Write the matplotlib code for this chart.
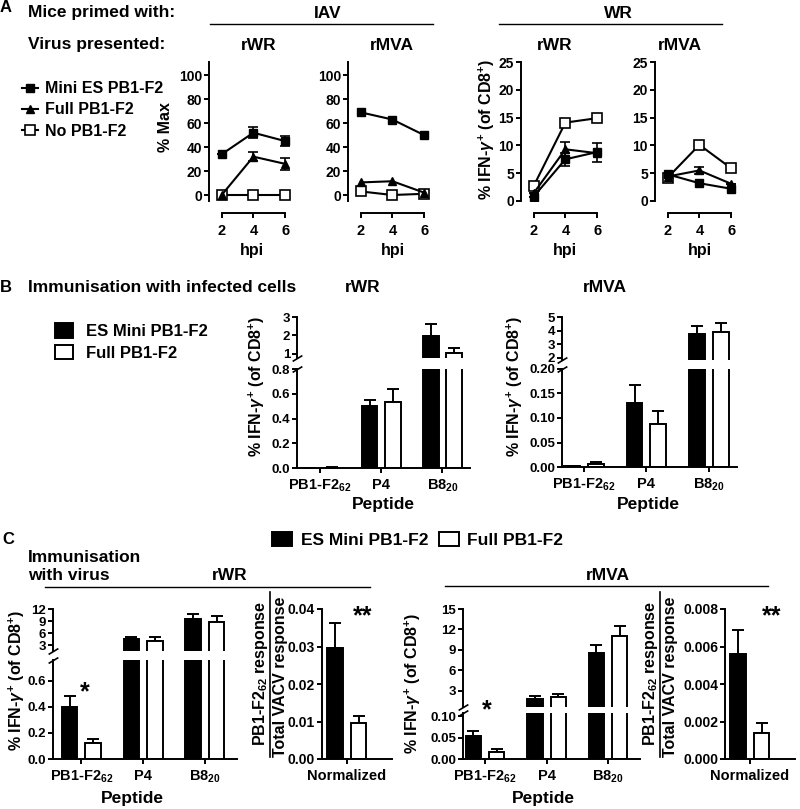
import numpy as np
import matplotlib
matplotlib.use("Agg")
import matplotlib.pyplot as plt
from matplotlib.lines import Line2D
from matplotlib.patches import Patch
from matplotlib.ticker import FormatStrFormatter

plt.rcParams['font.family'] = ['Liberation Sans', 'DejaVu Sans']
plt.rcParams['font.weight'] = 'bold'
plt.rcParams['axes.labelweight'] = 'bold'
plt.rcParams['mathtext.fontset'] = 'custom'
plt.rcParams['mathtext.rm'] = 'Liberation Sans'
plt.rcParams['mathtext.it'] = 'Liberation Sans:italic'
plt.rcParams['mathtext.bf'] = 'Liberation Sans:bold'
plt.rcParams['axes.linewidth'] = 1.4

# ---------------- data ----------------
hpi = [2, 4, 6]
series_names = ["Mini ES PB1-F2", "Full PB1-F2", "No PB1-F2"]

# A, IAV primed (% Max)
iav_rwr_mini = [34, 52, 45]
iav_rwr_mini_err = [0, 4.5, 4]
iav_rwr_full = [0, 32, 26]
iav_rwr_full_err = [0, 3.5, 5]
iav_rwr_none = [0, 0, 0]

iav_rmva_mini = [69, 63, 50]
iav_rmva_full = [10.5, 11.5, 2]
iav_rmva_none = [3, 0, 1]

# A, WR primed (% IFN-g+ of CD8+)
wr_rwr_mini = [0.8, 7.5, 8.8]
wr_rwr_mini_err = [0, 1.2, 1.7]
wr_rwr_full = [1.4, 9.3, 8.6]
wr_rwr_full_err = [0, 1.4, 0]
wr_rwr_none = [2.7, 14.1, 14.9]

wr_rmva_mini = [4.8, 3.2, 2.2]
wr_rmva_full = [4.4, 5.5, 3.1]
wr_rmva_full_err = [0, 0.7, 0]
wr_rmva_none = [4.2, 10.1, 5.9]

# B, immunisation with infected cells
peptides = ["PB1-F2$_{62}$", "P4", "B8$_{20}$"]
b_rwr_mini = [0.003, 0.50, 1.95]
b_rwr_mini_err = [0.001, 0.05, 0.65]
b_rwr_full = [0.004, 0.53, 1.05]
b_rwr_full_err = [0.002, 0.11, 0.25]
b_rmva_mini = [0.002, 0.130, 3.75]
b_rmva_mini_err = [0.001, 0.038, 0.6]
b_rmva_full = [0.006, 0.087, 3.9]
b_rmva_full_err = [0.004, 0.028, 0.65]

# C, immunisation with virus
c_rwr_mini = [0.40, 4.5, 9.4]
c_rwr_mini_err = [0.085, 0.5, 1.3]
c_rwr_full = [0.12, 4.1, 8.8]
c_rwr_full_err = [0.03, 0.9, 1.4]
c_rwr_norm = [0.0297, 0.0096]
c_rwr_norm_err = [0.0067, 0.0019]

c_rmva_mini = [0.053, 1.85, 8.5]
c_rmva_mini_err = [0.012, 0.45, 1.3]
c_rmva_full = [0.017, 2.05, 11.1]
c_rmva_full_err = [0.007, 0.5, 1.35]
c_rmva_norm = [0.0056, 0.0014]
c_rmva_norm_err = [0.0013, 0.0005]

# ---------------- figure helpers (pixel layout) ----------------
W, H = 800, 809
fig = plt.figure(figsize=(W / 100, H / 100), dpi=100)


def px_axes(l, t, r, b):
    ax = fig.add_axes([l / W, 1 - b / H, (r - l) / W, (b - t) / H])
    ax.spines['top'].set_visible(False)
    ax.spines['right'].set_visible(False)
    ax.patch.set_alpha(0)
    ax.tick_params(direction='out', length=3.5, width=1.4, labelsize=10, pad=1.5)
    return ax


def ftext(x, y, s, **kw):
    kw.setdefault('ha', 'center')
    kw.setdefault('va', 'center')
    fig.text(x / W, 1 - y / H, s, **kw)


def fline(x0, x1, y0, y1, lw=1.0):
    fig.add_artist(Line2D([x0 / W, x1 / W], [1 - y0 / H, 1 - y1 / H],
                          color='black', lw=lw, transform=fig.transFigure))


ylab_ifn = r'% IFN-$\gamma^{+}$ (of CD8$^{+}$)'
HEAD = 12.5

# ---------------- panel A ----------------
def line_panel(ax, mini, full, none, ylim, yticks, mini_err=None, full_err=None):
    kw = dict(color='black', lw=1.5, capsize=3.5, elinewidth=1.2, capthick=1.2)
    ax.errorbar(hpi, none, marker='s', ms=6.5, mfc='white', mec='black', mew=1.2, **kw)
    ax.errorbar(hpi, full, yerr=full_err, marker='^', ms=6, mfc='black', **kw)
    ax.errorbar(hpi, mini, yerr=mini_err, marker='s', ms=6, mfc='black', **kw)
    ax.set_xlim(1.2, 6.5)
    ax.set_ylim(*ylim)
    ax.set_yticks(yticks)
    ax.set_xticks(hpi)
    ax.spines['bottom'].set_position(('outward', 8.6))
    ax.spines['bottom'].set_bounds(2, 6)
    ax.tick_params(axis='x', pad=4.5, labelsize=10.5)


a1 = px_axes(209, 62, 293, 201)
line_panel(a1, iav_rwr_mini, iav_rwr_full, iav_rwr_none, (-5, 111), range(0, 101, 20),
           iav_rwr_mini_err, iav_rwr_full_err)
a2 = px_axes(348, 62, 432, 201)
line_panel(a2, iav_rmva_mini, iav_rmva_full, iav_rmva_none, (-5, 111), range(0, 101, 20))
a3 = px_axes(521, 62, 605, 201)
line_panel(a3, wr_rwr_mini, wr_rwr_full, wr_rwr_none, (0, 25), range(0, 26, 5),
           wr_rwr_mini_err, wr_rwr_full_err)
a4 = px_axes(655, 62, 739, 201)
line_panel(a4, wr_rmva_mini, wr_rmva_full, wr_rmva_none, (0, 25), range(0, 26, 5),
           None, wr_rmva_full_err)

ftext(6, 7, 'A', fontsize=12)
ftext(28, 13, 'Mice primed with:', ha='left', fontsize=HEAD)
ftext(28, 45, 'Virus presented:', ha='left', fontsize=HEAD)
ftext(328, 13, 'IAV', fontsize=HEAD)
ftext(618, 13, 'WR', fontsize=HEAD)
fline(210, 433, 24, 24)
fline(499, 722, 24, 24)
for x, s in [(259, 'rWR'), (392, 'rMVA'), (555, 'rWR'), (680, 'rMVA')]:
    ftext(x, 45, s, fontsize=HEAD)
for x in [252, 393, 565, 700]:
    ftext(x, 250, 'hpi', fontsize=11.5)
ftext(166, 127, '% Max', rotation=90, fontsize=11.5)
ftext(487, 129, ylab_ifn, rotation=90, fontsize=11.5)

a_handles = [Line2D([], [], color='black', lw=1.5, marker='s', ms=6, mfc='black'),
             Line2D([], [], color='black', lw=1.5, marker='^', ms=6, mfc='black'),
             Line2D([], [], color='black', lw=1.5, marker='s', ms=6.5, mfc='white', mew=1.2)]
fig.legend(a_handles, series_names, loc='center left', bbox_to_anchor=(22 / W, 1 - 110 / H),
           frameon=False, fontsize=11.5, handlelength=1.0, handletextpad=0.45,
           labelspacing=0.4, borderpad=0, borderaxespad=0)

# ---------------- bar helpers ----------------
BW, OFF = 0.25, 0.19


def bar_pair(ax, mini, mini_err, full, full_err):
    x = np.arange(len(mini))
    ax.bar(x - OFF, mini, BW, color='black', edgecolor='black', lw=1.4, zorder=2)
    ax.bar(x + OFF, full, BW, color='white', edgecolor='black', lw=1.4, zorder=2)
    kw = dict(fmt='none', ecolor='black', elinewidth=1.4, capsize=4.2, capthick=1.4, zorder=1)
    ax.errorbar(x - OFF, mini, yerr=[np.zeros(len(mini)), mini_err], **kw)
    ax.errorbar(x + OFF, full, yerr=[np.zeros(len(full)), full_err], **kw)


def break_marks(upper, lower):
    mk = dict(marker=[(-1, -0.6), (1, 0.6)], markersize=7, linestyle='none',
              color='black', mec='black', mew=1.2, clip_on=False)
    upper.plot([0], [0], transform=upper.transAxes, **mk)
    lower.plot([0], [1], transform=lower.transAxes, **mk)


def broken(lo_box, up_box, lo_ylim, up_ylim, lo_ticks, up_ticks, lo_fmt, xlim,
           mini, mini_err, full, full_err, labels):
    up = px_axes(*up_box)
    lo = px_axes(*lo_box)
    for ax in (up, lo):
        bar_pair(ax, mini, mini_err, full, full_err)
        ax.set_xlim(*xlim)
        ax.tick_params(axis='y', labelsize=9.5)
    up.set_ylim(*up_ylim)
    up.set_yticks(up_ticks)
    up.spines['bottom'].set_visible(False)
    up.set_xticks([])
    lo.set_ylim(*lo_ylim)
    lo.set_yticks(lo_ticks)
    lo.yaxis.set_major_formatter(FormatStrFormatter(lo_fmt))
    lo.set_xticks(range(len(labels)))
    lo.set_xticklabels(labels, fontsize=10.5)
    lo.tick_params(axis='x', pad=3.5)
    break_marks(up, lo)
    return up, lo


# ---------------- panel B ----------------
broken((297, 369, 470, 468), (297, 317, 470, 358), (0, 0.8), (0.78, 3),
       np.arange(0, 0.81, 0.2), [1, 2, 3], '%.1f', (-0.38, 2.45),
       b_rwr_mini, b_rwr_mini_err, b_rwr_full, b_rwr_full_err, peptides)
broken((562, 369, 737, 467), (562, 317, 737, 360), (0, 0.2), (1.85, 5),
       np.arange(0, 0.201, 0.05), [2, 3, 4, 5], '%.2f', (-0.35, 2.45),
       b_rmva_mini, b_rmva_mini_err, b_rmva_full, b_rmva_full_err, peptides)

ftext(6, 287, 'B', fontsize=12)
ftext(28, 287, 'Immunisation with infected cells', ha='left', fontsize=HEAD)
ftext(363, 287, 'rWR', fontsize=HEAD)
ftext(605, 287, 'rMVA', fontsize=HEAD)
ftext(257, 386, ylab_ifn, rotation=90, fontsize=11.5)
ftext(515, 386, ylab_ifn, rotation=90, fontsize=11.5)
ftext(383, 505, 'Peptide', fontsize=12.5)
ftext(648, 505, 'Peptide', fontsize=12.5)

bar_handles = [Patch(facecolor='black', edgecolor='black', lw=1.4),
               Patch(facecolor='white', edgecolor='black', lw=1.4)]
bar_names = ['ES Mini PB1-F2', 'Full PB1-F2']
fig.legend(bar_handles, bar_names, loc='center left', bbox_to_anchor=(55 / W, 1 - 342 / H),
           frameon=False, fontsize=12, handlelength=1.05, handleheight=0.95,
           handletextpad=0.8, labelspacing=0.35, borderpad=0, borderaxespad=0)

# ---------------- panel C ----------------
broken((53, 660, 237, 759), (53, 609, 237, 651), (0, 0.76), (1.5, 12),
       np.arange(0, 0.61, 0.2), [3, 6, 9, 12], '%.1f', (-0.46, 2.52),
       c_rwr_mini, c_rwr_mini_err, c_rwr_full, c_rwr_full_err, peptides)
broken((463, 713, 640, 759), (463, 609, 640, 707), (0, 0.108), (0.65, 15),
       [0, 0.05, 0.10], [3, 6, 9, 12, 15], '%.2f', (-0.36, 2.52),
       c_rmva_mini, c_rmva_mini_err, c_rmva_full, c_rmva_full_err, peptides)


def norm_panel(box, vals, errs, ylim, yticks, fmt):
    ax = px_axes(*box)
    kw = dict(ecolor='black', elinewidth=1.4, capsize=4.2, capthick=1.4, fmt='none', zorder=1)
    ax.bar([-OFF], vals[:1], BW, color='black', edgecolor='black', lw=1.4, zorder=2)
    ax.bar([OFF], vals[1:], BW, color='white', edgecolor='black', lw=1.4, zorder=2)
    ax.errorbar([-OFF, OFF], vals, yerr=[[0, 0], errs], **kw)
    ax.set_xlim(-0.4, 0.73)
    ax.set_ylim(*ylim)
    ax.set_yticks(yticks)
    ax.yaxis.set_major_formatter(FormatStrFormatter(fmt))
    ax.set_xticks([0])
    ax.set_xticklabels(['Normalized'], fontsize=10.5)
    ax.tick_params(axis='x', pad=3.5)
    return ax


norm_panel((322, 609, 392, 759), c_rwr_norm, c_rwr_norm_err, (0, 0.04),
           np.arange(0, 0.041, 0.01), '%.2f')
norm_panel((725, 609, 795, 759), c_rmva_norm, c_rmva_norm_err, (0, 0.008),
           np.arange(0, 0.0081, 0.002), '%.3f')

ftext(8, 540, 'C', fontsize=12)
ftext(28, 557, 'Immunisation', ha='left', fontsize=HEAD)
ftext(28, 575, 'with virus', ha='left', fontsize=HEAD)
ftext(230, 575, 'rWR', fontsize=HEAD)
ftext(608, 575, 'rMVA', fontsize=HEAD)
fline(45, 370, 587, 587)
fline(445, 768, 586, 586)
fig.legend(bar_handles, bar_names, loc='center left', bbox_to_anchor=(272 / W, 1 - 540 / H),
           ncol=2, frameon=False, fontsize=12.5, handlelength=1.15, handleheight=0.9,
           handletextpad=0.5, columnspacing=0.6, borderpad=0, borderaxespad=0)

ftext(17, 680, ylab_ifn, rotation=90, fontsize=11.5)
ftext(413, 683, ylab_ifn, rotation=90, fontsize=11.5)
ftext(132, 798, 'Peptide', fontsize=12.5)
ftext(543, 798, 'Peptide', fontsize=12.5)
for xl, xb, xr in [(261, 270, 280), (651, 660, 670)]:
    ftext(xl, 673, 'PB1-F2$_{62}$ response', rotation=90, fontsize=11.5)
    ftext(xr, 677, 'Total VACV response', rotation=90, fontsize=11.5)
    fline(xb, xb, 592, 757, lw=1.2)

ftext(85, 692, '*', fontsize=18)
ftext(487, 710, '*', fontsize=18)
ftext(363, 616, '**', fontsize=18)
ftext(772, 616, '**', fontsize=18)

fig.savefig('out.png', dpi=100)
